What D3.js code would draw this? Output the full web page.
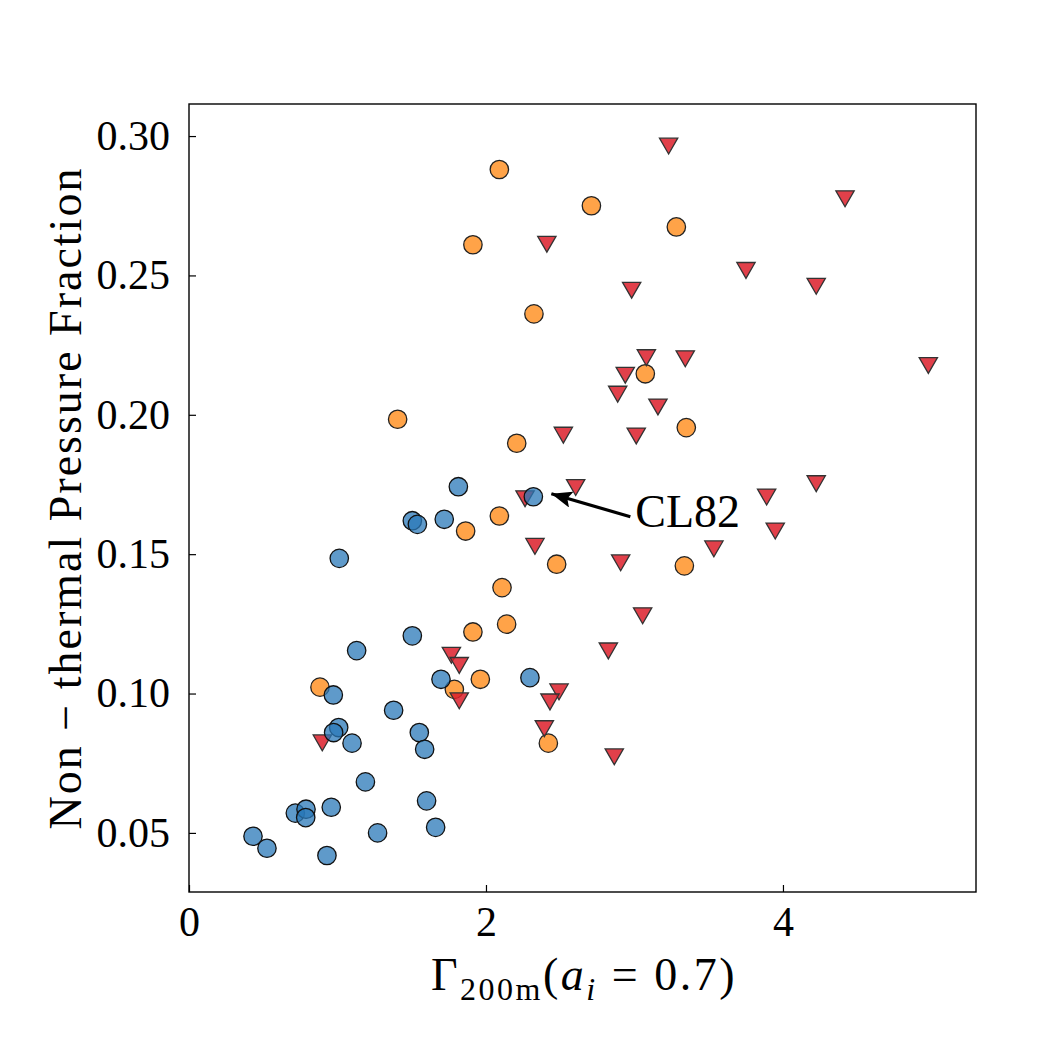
<!DOCTYPE html>
<html>
<head>
<meta charset="utf-8">
<script src="https://cdn.jsdelivr.net/npm/d3@7"></script>
<style>
  body { margin: 0; background: #fff; }
  svg text { font-family: "Liberation Serif", "DejaVu Serif", serif; fill: #000; }
</style>
</head>
<body>
<div id="app"></div>
<script>
// Gamma_200m values and non-thermal pressure fractions
const blueX = [1.814, 2.319, 1.504, 1.538, 1.719, 1.012, 1.504, 1.129, 1.697, 2.296, 0.972, 1.378, 1.008, 0.974,
  1.551, 1.098, 1.587, 1.188, 0.716, 0.788, 0.786, 0.958, 1.600, 0.431, 0.525, 1.270, 1.661, 0.929];
const blueY = [0.1742, 0.1706, 0.1620, 0.1607, 0.1625, 0.1485, 0.1207, 0.1154, 0.1051, 0.1057, 0.0995, 0.0940, 0.0878, 0.0860,
  0.0860, 0.0822, 0.0800, 0.0683, 0.0571, 0.0585, 0.0555, 0.0592, 0.0615, 0.0488, 0.0445, 0.0500, 0.0520, 0.0419];

const orangeX = [2.090, 2.710, 1.912, 2.323, 1.405, 2.207, 3.282, 3.073, 3.349, 2.090, 1.863, 2.476, 3.336, 2.108,
  2.139, 1.912, 1.962, 1.787, 0.882, 2.420];
const orangeY = [0.2880, 0.2750, 0.2610, 0.2362, 0.1984, 0.1898, 0.2674, 0.2147, 0.1954, 0.1637, 0.1583, 0.1464, 0.1458, 0.1380,
  0.1249, 0.1221, 0.1051, 0.1015, 0.1023, 0.0822];

const redX = [2.410, 3.230, 4.418, 3.751, 2.981, 4.224, 3.080, 3.342, 4.979, 2.938, 2.887, 3.158, 3.012, 2.521, 2.604,
  2.263, 4.224, 3.890, 3.948, 3.535, 2.907, 2.330, 3.055, 2.824, 2.864, 1.767, 1.820, 2.492, 1.820, 2.431, 2.393, 0.898];
const redY = [0.2625, 0.2977, 0.2788, 0.2531, 0.2460, 0.2474, 0.2218, 0.2214, 0.2190, 0.2155, 0.2087, 0.2041, 0.1937, 0.1940, 0.1752,
  0.1712, 0.1766, 0.1718, 0.1596, 0.1532, 0.1482, 0.1541, 0.1292, 0.1166, 0.0786, 0.1150, 0.1114, 0.1019, 0.0987, 0.0983, 0.0887, 0.0836];

const xTicks = [0, 2, 4];
const yTicks = [0.05, 0.10, 0.15, 0.20, 0.25, 0.30];

const width = 1050, height = 1050;
const marginLeft = 189, marginRight = 74, marginTop = 104, marginBottom = 158;

const x = d3.scaleLinear().domain([0, 5.30]).range([marginLeft, width - marginRight]);
const y = d3.scaleLinear().domain([0.0288, 0.3115]).range([height - marginBottom, marginTop]);

const svg = d3.select('#app').append('svg')
  .attr('width', width)
  .attr('height', height);

svg.append('defs').append('marker')
  .attr('id', 'head')
  .attr('viewBox', '0 0 10 10')
  .attr('refX', 10).attr('refY', 5)
  .attr('markerWidth', 6.5).attr('markerHeight', 5.2)
  .attr('markerUnits', 'strokeWidth')
  .attr('orient', 'auto')
  .attr('preserveAspectRatio', 'none')
  .append('path')
  .attr('d', 'M0,0 L10,5 L0,10 L2,5 Z')
  .attr('fill', '#000');

const zip = (xs, ys) => xs.map((v, i) => [v, ys[i]]);

// orange circles
svg.append('g').selectAll('circle')
  .data(zip(orangeX, orangeY))
  .join('circle')
  .attr('cx', d => x(d[0]))
  .attr('cy', d => y(d[1]))
  .attr('r', 9.2)
  .attr('fill', '#ff8c1a')
  .attr('fill-opacity', 0.8)
  .attr('stroke', '#222')
  .attr('stroke-width', 1.3);

// red down triangles
svg.append('g').selectAll('path')
  .data(zip(redX, redY))
  .join('path')
  .attr('d', d3.symbol(d3.symbolTriangle, 145))
  .attr('transform', d => `translate(${x(d[0])},${y(d[1]) + 1}) rotate(180)`)
  .attr('fill', '#dc1f2a')
  .attr('fill-opacity', 0.85)
  .attr('stroke', '#333')
  .attr('stroke-width', 1.3);

// blue circles
svg.append('g').selectAll('circle')
  .data(zip(blueX, blueY))
  .join('circle')
  .attr('cx', d => x(d[0]))
  .attr('cy', d => y(d[1]))
  .attr('r', 9.2)
  .attr('fill', '#2a78b8')
  .attr('fill-opacity', 0.75)
  .attr('stroke', '#111')
  .attr('stroke-width', 1.3);

// frame
svg.append('rect')
  .attr('x', marginLeft).attr('y', marginTop)
  .attr('width', width - marginLeft - marginRight)
  .attr('height', height - marginTop - marginBottom)
  .attr('fill', 'none')
  .attr('stroke', '#000')
  .attr('stroke-width', 1.4);

// axes with inward ticks
const xAxis = svg.append('g')
  .attr('transform', `translate(0,${height - marginBottom})`)
  .call(d3.axisBottom(x).tickValues(xTicks).tickFormat(d3.format('d')).tickSizeInner(-7).tickSizeOuter(0).tickPadding(14));
xAxis.select('.domain').remove();
xAxis.selectAll('text').attr('font-size', 42).attr('font-family', '"Liberation Serif", serif');
xAxis.selectAll('line').attr('stroke-width', 1.2);

const yAxis = svg.append('g')
  .attr('transform', `translate(${marginLeft},0)`)
  .call(d3.axisLeft(y).tickValues(yTicks).tickFormat(d3.format('.2f')).tickSizeInner(-7).tickSizeOuter(0).tickPadding(19));
yAxis.select('.domain').remove();
yAxis.selectAll('text').attr('font-size', 42).attr('font-family', '"Liberation Serif", serif');
yAxis.selectAll('line').attr('stroke-width', 1.2);

// axis labels
const xl = svg.append('text')
  .attr('x', 584)
  .attr('y', 990)
  .attr('text-anchor', 'middle')
  .attr('font-size', 46)
  .attr('letter-spacing', 2.5);
xl.append('tspan').text('Γ');
xl.append('tspan').attr('font-size', 32).attr('dy', 10).text('200m');
xl.append('tspan').attr('dy', -10).text('(');
xl.append('tspan').attr('font-style', 'italic').text('a');
xl.append('tspan').attr('font-style', 'italic').attr('font-size', 32).attr('dy', 10).text('i');
xl.append('tspan').attr('dy', -10).text(' = 0.7)');

svg.append('text')
  .attr('transform', `translate(81,${(marginTop + height - marginBottom) / 2}) rotate(-90)`)
  .attr('text-anchor', 'middle')
  .attr('font-size', 46)
  .attr('letter-spacing', 2)
  .text('Non − thermal Pressure Fraction');

// CL82 annotation
const cl = { gx: 2.319, gy: 0.1706 };
svg.append('line')
  .attr('x1', x(cl.gx) + 97).attr('y1', y(cl.gy) + 20)
  .attr('x2', x(cl.gx) + 18).attr('y2', y(cl.gy) - 3)
  .attr('stroke', '#000')
  .attr('stroke-width', 3.2)
  .attr('marker-end', 'url(#head)');

svg.append('text')
  .attr('x', x(cl.gx) + 102)
  .attr('y', y(cl.gy) + 30)
  .attr('font-size', 46)
  .text('CL82');
</script>
</body>
</html>
